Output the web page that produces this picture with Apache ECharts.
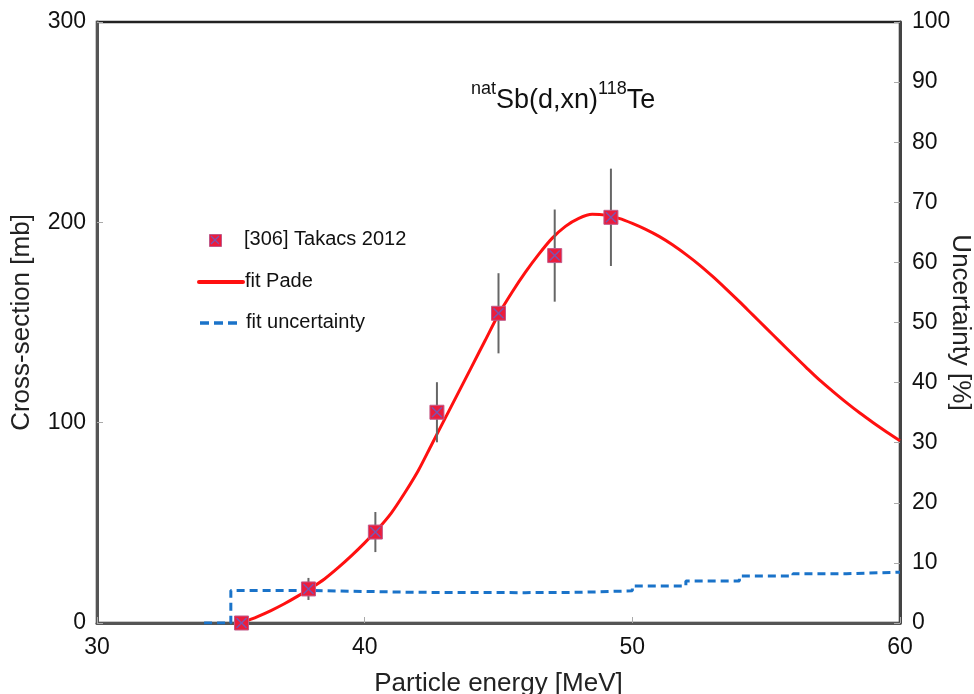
<!DOCTYPE html>
<html>
<head>
<meta charset="utf-8">
<script src="https://cdn.jsdelivr.net/npm/echarts@6/dist/echarts.min.js"></script>
<style>html,body{margin:0;padding:0;background:#fff}#c{width:974px;height:694px}</style>
</head>
<body>
<div id="c"></div>
<script>
// Experimental data: [306] Takacs 2012
var expEnergy = [35.4, 37.9, 40.4, 42.7, 45.0, 47.1, 49.2];
var expXs     = [0.0, 17.0, 45.4, 105.2, 154.6, 183.4, 202.5];
var expErr    = [0.0, 5.5, 10.0, 15.0, 20.0, 23.0, 24.3];

// Pade fit curve
var fitEnergy = [35.4, 36, 36.5, 37, 37.5, 38, 38.5, 39, 39.5, 40, 40.5, 41, 41.5, 42, 42.5, 43, 43.5, 44, 44.5, 45, 45.5, 46, 46.5, 47, 47.5, 48, 48.5, 49, 49.5, 50, 50.5, 51, 51.5, 52, 52.5, 53, 53.5, 54, 54.5, 55, 55.5, 56, 56.5, 57, 57.5, 58, 58.5, 59, 59.5, 60];
var fitXs     = [0, 3.2, 6.2, 9.6, 13.4, 17.5, 22, 27.5, 33.5, 40, 47, 55, 65, 76, 89, 102, 115, 128, 141, 154, 165, 175, 184, 192, 198, 202, 204, 203.6, 202, 199.5, 196.5, 193, 188.8, 184, 178.8, 173, 166.8, 160.4, 153.8, 147.2, 140.6, 134, 127.5, 121.2, 115.5, 110, 104.8, 100, 95.4, 91];

// Fit uncertainty (%), step function
var uncEnergy = [34, 35, 38, 40, 42, 46, 48, 50, 52, 54, 56, 58, 60];
var uncPct    = [0, 5.4, 5.25, 5.1, 5.05, 5.1, 5.35, 6.15, 7.0, 7.8, 8.2, 8.45, 8.45];

var xTicks = [30, 40, 50, 60];

var chart = echarts.init(document.getElementById('c'));
var FONT = 'Liberation Sans, Arial, sans-serif';

function zip(a, b) { return a.map(function (v, i) { return [v, b[i]]; }); }

var expData = expEnergy.map(function (e, i) { return [e, expXs[i], expErr[i]]; });

chart.setOption({
  animation: false,
  backgroundColor: '#fff',
  textStyle: { fontFamily: FONT },
  title: {
    text: '{sup|nat}{m|Sb(d,xn)}{sup|118}{m|Te}',
    left: 466, top: 75,
    textStyle: {
      fontWeight: 'normal',
      rich: {
        m: { fontSize: 27, color: '#111', fontFamily: FONT, fontWeight: 'normal', verticalAlign: 'bottom', lineHeight: 34 },
        sup: { fontSize: 18, color: '#111', fontFamily: FONT, fontWeight: 'normal', verticalAlign: 'top', lineHeight: 34, padding: [0, 0, 14, 0] }
      }
    }
  },
  grid: { left: 97, right: 74, top: 22, bottom: 71, containLabel: false, outerBoundsMode: 'none', show: true, borderColor: '#222', borderWidth: 2.5, backgroundColor: 'transparent' },
  xAxis: {
    type: 'value', min: 30, max: 60, interval: 10,
    name: 'Particle energy [MeV]', nameLocation: 'middle', nameGap: 48, nameMoveOverlap: false,
    nameTextStyle: { fontSize: 26, color: '#222', fontFamily: FONT },
    axisLine: { show: true, lineStyle: { color: '#555', width: 3 } },
    axisTick: { show: true, inside: true, length: 6, lineStyle: { color: '#aaa', width: 1 } },
    axisLabel: { fontSize: 23, color: '#111', margin: 13, fontFamily: FONT,
      formatter: function (v) { return xTicks.indexOf(v) >= 0 ? String(v) : ''; } },
    splitLine: { show: false }
  },
  yAxis: [{
    type: 'value', min: 0, max: 300, interval: 100,
    name: 'Cross-section [mb]', nameLocation: 'middle', nameGap: 62, nameRotate: 90, nameMoveOverlap: false,
    nameTextStyle: { fontSize: 26, color: '#222', fontFamily: FONT },
    axisLine: { show: true, lineStyle: { color: '#555', width: 3 } },
    axisTick: { show: true, inside: true, length: 6, lineStyle: { color: '#aaa', width: 1 } },
    axisLabel: { fontSize: 23, color: '#111', margin: 11, fontFamily: FONT },
    splitLine: { show: false }
  }, {
    type: 'value', min: 0, max: 100, interval: 10, position: 'right',
    name: 'Uncertainty [%]', nameLocation: 'middle', nameGap: 47, nameRotate: -90, nameMoveOverlap: false,
    nameTextStyle: { fontSize: 26, color: '#222', fontFamily: FONT },
    axisLine: { show: true, lineStyle: { color: '#444', width: 3 } },
    axisTick: { show: true, inside: true, length: 6, lineStyle: { color: '#aaa', width: 1 } },
    axisLabel: { fontSize: 23, color: '#111', margin: 12, fontFamily: FONT },
    splitLine: { show: false }
  }],
  series: [{
    name: 'fit uncertainty', type: 'line', yAxisIndex: 1, step: 'end',
    data: zip(uncEnergy, uncPct), showSymbol: false, symbol: 'none',
    lineStyle: { color: '#1a73c9', width: 3, type: [8, 5] }, z: 2
  }, {
    name: 'fit Pade', type: 'line', yAxisIndex: 0, smooth: 0.3,
    data: zip(fitEnergy, fitXs), showSymbol: false, symbol: 'none',
    lineStyle: { color: '#ff1010', width: 3 }, z: 3
  }, {
    name: '[306] Takacs 2012', type: 'custom', yAxisIndex: 0, z: 4,
    data: expData,
    encode: { x: 0, y: 1 },
    renderItem: function (params, api) {
      var x = api.value(0), y = api.value(1), e = api.value(2);
      var c = api.coord([x, y]);
      var hi = api.coord([x, y + e]);
      var lo = api.coord([x, Math.max(0, y - e)]);
      var s = 7;
      var children = [];
      if (e > 0) {
        children.push({ type: 'line', shape: { x1: c[0], y1: hi[1], x2: c[0], y2: lo[1] },
          style: { stroke: '#666', lineWidth: 2 } });
      }
      children.push({ type: 'rect', shape: { x: c[0] - s, y: c[1] - s, width: 2 * s, height: 2 * s },
        style: { fill: '#ec1c3c', stroke: '#c05a8a', lineWidth: 1 } });
      children.push({ type: 'line', shape: { x1: c[0] - 5, y1: c[1] - 5, x2: c[0] + 5, y2: c[1] + 5 },
        style: { stroke: '#7a55b0', lineWidth: 1.5 } });
      children.push({ type: 'line', shape: { x1: c[0] - 5, y1: c[1] + 5, x2: c[0] + 5, y2: c[1] - 5 },
        style: { stroke: '#7a55b0', lineWidth: 1.5 } });
      return { type: 'group', children: children };
    }
  }],
  graphic: [
    { type: 'rect', left: 209, top: 234, shape: { width: 12, height: 12 }, style: { fill: '#ec1c3c', stroke: '#c05a8a', lineWidth: 1 } },
    { type: 'line', shape: { x1: 211, y1: 236, x2: 219, y2: 244 }, style: { stroke: '#7a55b0', lineWidth: 1.3 } },
    { type: 'line', shape: { x1: 211, y1: 244, x2: 219, y2: 236 }, style: { stroke: '#7a55b0', lineWidth: 1.3 } },
    { type: 'text', left: 244, top: 229, style: { text: '[306] Takacs 2012', fontSize: 20, fill: '#111', fontFamily: FONT } },
    { type: 'line', shape: { x1: 199, y1: 282, x2: 243, y2: 282 }, style: { stroke: '#ff1010', lineWidth: 4, lineCap: 'round' } },
    { type: 'text', left: 245, top: 271, style: { text: 'fit Pade', fontSize: 20, fill: '#111', fontFamily: FONT } },
    { type: 'line', shape: { x1: 200, y1: 323, x2: 242, y2: 323 }, style: { stroke: '#1a73c9', lineWidth: 3.5, lineDash: [9, 5] } },
    { type: 'text', left: 246, top: 312, style: { text: 'fit uncertainty', fontSize: 20, fill: '#111', fontFamily: FONT } }
  ]
});
</script>
</body>
</html>
